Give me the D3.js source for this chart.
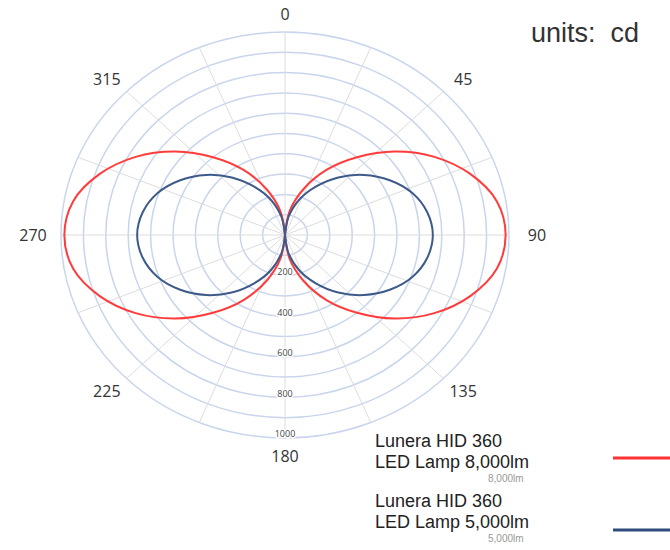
<!DOCTYPE html>
<html>
<head>
<meta charset="utf-8">
<script src="https://cdn.jsdelivr.net/npm/d3@7"></script>
<style>
  body { margin: 0; background: #fff; }
  svg { display: block; }
</style>
</head>
<body>
<svg id="canvas" width="670" height="550"></svg>
<script>
// angles in degrees, candela values
let angles = d3.range(0, 361, 10)
let red8000 = [0, 120, 240, 370, 500, 640, 770, 880, 960, 985, 960, 880, 770, 640, 500, 370, 240, 120, 0,
               120, 240, 370, 500, 640, 770, 880, 960, 985, 960, 880, 770, 640, 500, 370, 240, 120, 0]
let blue5000 = [0, 90, 185, 275, 370, 460, 540, 605, 645, 660, 645, 605, 540, 460, 370, 275, 185, 90, 0,
                90, 185, 275, 370, 460, 540, 605, 645, 660, 645, 605, 540, 460, 370, 275, 185, 90, 0]
let rings = d3.range(100, 1001, 100)
let ringLabels = [200, 400, 600, 800, 1000]
let spokes = d3.range(0, 360, 22.5)
let angleLabels = [0, 45, 90, 135, 180, 225, 270, 315]
let legendNames = [['Lunera HID 360', 'LED Lamp 8,000lm', '8,000lm'], ['Lunera HID 360', 'LED Lamp 5,000lm', '5,000lm']]
let legendColors = ['#ff3333', '#2f4b7c']

let canvas = d3.select('#canvas')

let cx = 285, cy = 235
let rx = 224, ry = 203   // the picture is stretched a little horizontally

let r = d3.scaleLinear().domain([0, 1000]).range([0, 1])
let rad = (a) => a * Math.PI / 180
let px = (a, v) => cx + r(v) * rx * Math.sin(rad(a))
let py = (a, v) => cy - r(v) * ry * Math.cos(rad(a))

// grid rings
canvas.append('g').selectAll('ellipse')
    .data(rings)
    .enter()
    .append('ellipse')
    .attr('cx', cx)
    .attr('cy', cy)
    .attr('rx', (d) => r(d) * rx)
    .attr('ry', (d) => r(d) * ry)
    .attr('fill', 'none')
    .attr('stroke', '#c9d5ec')
    .attr('stroke-width', 1.5)

// spokes
canvas.append('g').selectAll('line')
    .data(spokes)
    .enter()
    .append('line')
    .attr('x1', cx)
    .attr('y1', cy)
    .attr('x2', (d) => px(d, 1000))
    .attr('y2', (d) => py(d, 1000))
    .attr('stroke', '#dcdcdc')
    .attr('stroke-width', 1)

// radial value labels along the 180 spoke
canvas.append('g').selectAll('text')
    .data(ringLabels)
    .enter()
    .append('text')
    .attr('x', cx)
    .attr('y', (d) => py(180, d) - 3)
    .attr('text-anchor', 'middle')
    .attr('dominant-baseline', 'middle')
    .attr('font-family', 'Open Sans, sans-serif')
    .attr('font-size', 9)
    .attr('fill', '#444')
    .attr('stroke', '#fff')
    .attr('stroke-width', 3)
    .attr('paint-order', 'stroke')
    .text((d) => d)

// angle labels
let lrx = 252, lry = 221
canvas.append('g').selectAll('text')
    .data(angleLabels)
    .enter()
    .append('text')
    .attr('x', (d) => cx + lrx * Math.sin(rad(d)))
    .attr('y', (d) => cy - lry * Math.cos(rad(d)))
    .attr('text-anchor', 'middle')
    .attr('dominant-baseline', 'central')
    .attr('font-family', 'Open Sans, sans-serif')
    .attr('font-size', 16)
    .attr('fill', '#333')
    .text((d) => d)

// curves, one path per lobe so they meet at the centre without a bend
let drawSeries = (values, color) => {
    let pts = angles.map((a, i) => ({ a: a, v: values[i] }))
    let lobes = [pts.filter((p) => p.a <= 180), pts.filter((p) => p.a >= 180)]
    let line = d3.line()
        .x((p) => px(p.a, p.v))
        .y((p) => py(p.a, p.v))
        .curve(d3.curveCatmullRom)
    canvas.append('g').selectAll('path')
        .data(lobes)
        .enter()
        .append('path')
        .attr('d', line)
        .attr('fill', 'none')
        .attr('stroke', color)
        .attr('stroke-width', 2)
}
drawSeries(red8000, '#ff3b3b')
drawSeries(blue5000, '#3d5a8a')

// units
canvas.append('text')
    .attr('x', 531)
    .attr('y', 42)
    .attr('font-family', 'Liberation Sans, sans-serif')
    .attr('font-size', 27)
    .attr('fill', '#333')
    .attr('xml:space', 'preserve')
    .text('units:  cd')

// legend
let legend = canvas.append('g')
legendNames.forEach((names, i) => {
    let y0 = 447 + i * 60
    legend.append('text')
        .attr('x', 375).attr('y', y0)
        .attr('font-family', 'Liberation Sans, sans-serif')
        .attr('font-size', 18)
        .attr('fill', '#222')
        .text(names[0])
    legend.append('text')
        .attr('x', 375).attr('y', y0 + 21)
        .attr('font-family', 'Liberation Sans, sans-serif')
        .attr('font-size', 18)
        .attr('fill', '#222')
        .text(names[1])
    legend.append('text')
        .attr('x', 488).attr('y', y0 + 35)
        .attr('font-family', 'Liberation Sans, sans-serif')
        .attr('font-size', 10)
        .attr('fill', '#999')
        .text(names[2])
    legend.append('line')
        .attr('x1', 613).attr('x2', 670)
        .attr('y1', 458 + i * 72).attr('y2', 458 + i * 72)
        .attr('stroke', legendColors[i])
        .attr('stroke-width', 3)
})
</script>
</body>
</html>
